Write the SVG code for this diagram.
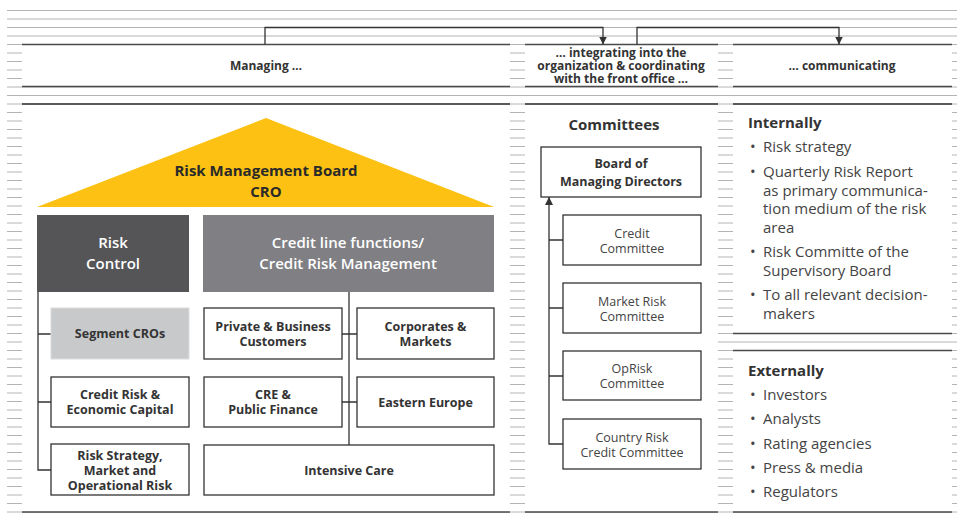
<svg xmlns="http://www.w3.org/2000/svg" width="957" height="520" viewBox="0 0 957 520">
<defs>
<style>
.bg{stroke:#b4b4b4;stroke-width:1}
.pb{stroke:#4a4a4a;stroke-width:1.3}
.pbt{stroke:#5a5a5a;stroke-width:2}
.box{fill:#fff;stroke:#333;stroke-width:1.3}
.con{fill:none;stroke:#333;stroke-width:1.3}
text{font-family:"Open Sans","Noto Sans",sans-serif;fill:#333}
.b{font-weight:700;font-size:12.5px;text-anchor:middle}
.h{font-weight:700;font-size:12px;text-anchor:middle}
.r{font-size:12.5px;text-anchor:middle;fill:#444}
.w{font-size:15px;text-anchor:middle;fill:#fff;font-weight:600}
.l{font-size:15px;fill:#444}
.lt{font-size:15px;font-weight:700;fill:#333}
</style>
<marker id="ah" viewBox="0 0 8 8" refX="8" refY="4" markerWidth="8" markerHeight="8" markerUnits="userSpaceOnUse" orient="auto">
<path d="M0,0 L8,4 L0,8 Z" fill="#333"/>
</marker>
</defs>
<rect width="957" height="520" fill="#fff"/>
<g id="grid">
<path class="bg" d="M7,10.5H957M7,19H957M7,27.5H957M7,36H957M7,44.5H957M7,53H957M7,61.5H957M7,70H957M7,78.5H957M7,87H957M7,95.5H957M7,104H957M7,112.5H957M7,121H957M7,129.5H957M7,138H957M7,146.5H957M7,155H957M7,163.5H957M7,172H957M7,180.5H957M7,189H957M7,197.5H957M7,206H957M7,214.5H957M7,223H957M7,231.5H957M7,240H957M7,248.5H957M7,257H957M7,265.5H957M7,274H957M7,282.5H957M7,291H957M7,299.5H957M7,308H957M7,316.5H957M7,325H957M7,333.5H957M7,342H957M7,350.5H957M7,359H957M7,367.5H957M7,376H957M7,384.5H957M7,393H957M7,401.5H957M7,410H957M7,418.5H957M7,427H957M7,435.5H957M7,444H957M7,452.5H957M7,461H957M7,469.5H957M7,478H957M7,486.5H957M7,495H957M7,503.5H957M7,512H957"/>
</g>
<g id="panels">
<rect x="22" y="44.5" width="488" height="42" fill="#fff"/>
<rect x="525" y="44.5" width="193" height="42" fill="#fff"/>
<rect x="733" y="44.5" width="219" height="42" fill="#fff"/>
<rect x="22" y="104" width="488" height="408" fill="#fff"/>
<rect x="525" y="104" width="193" height="408" fill="#fff"/>
<rect x="733" y="104" width="219" height="229.5" fill="#fff"/>
<rect x="733" y="350.5" width="219" height="161.5" fill="#fff"/>
<path class="pb" d="M22,44.5H510M525,44.5H718M733,44.5H952M22,86.5H510M525,86.5H718M733,86.5H952M733,333.5H952M733,350.5H952M22,512H510M525,512H718M733,512H952"/>
<path class="pbt" d="M22,104H510M525,104H718M733,104H952"/>
<text class="h" x="266" y="70">Managing …</text>
<text class="h" x="621" y="57">… integrating into the<tspan x="621" dy="13">organization &amp; coordinating</tspan><tspan x="621" dy="13">with the front office …</tspan></text>
<text class="h" x="842" y="70">… communicating</text>
</g>
<g id="connectors">
<path class="con" d="M265,44.5V27.5H603V44.5" marker-end="url(#ah)"/>
<path class="con" d="M637,44.5V27.5H839V44.5" marker-end="url(#ah)"/>
<path class="con" d="M38,292V470H51M38,334H51M38,402H51"/>
<path class="con" d="M349,292V445M342,334H357M342,402H357"/>
<path class="con" d="M563,444H549V197" marker-end="url(#ah)"/>
<path class="con" d="M549,240H563M549,308H563M549,376H563"/>
</g>
<g id="rmb">
<polygon points="266,118 494,207 37,207" fill="#fcc112"/>
<text x="266" y="176" style="font-size:15px;font-weight:700;text-anchor:middle;fill:#2a2a2a">Risk Management Board<tspan x="266" dy="21">CRO</tspan></text>
</g>
<g id="risk-control">
<rect x="37" y="215" width="152" height="77" fill="#555558"/>
<text class="w" x="113" y="248">Risk<tspan x="113" dy="21">Control</tspan></text>
</g>
<g id="credit-line">
<rect x="203" y="215" width="291" height="77" fill="#808084"/>
<text class="w" x="348" y="248">Credit line functions/<tspan x="348" dy="21">Credit Risk Management</tspan></text>
</g>
<g id="segment-cros">
<rect x="51" y="308" width="138" height="51" fill="#c8c9cb" stroke="#dcdcdc" stroke-width="1"/>
<text class="b" x="120" y="338">Segment CROs</text>
</g>
<g id="credit-risk-ec">
<rect class="box" x="51" y="377" width="138" height="50"/>
<text class="b" x="120" y="399">Credit Risk &amp;<tspan x="120" dy="15">Economic Capital</tspan></text>
</g>
<g id="risk-strategy">
<rect class="box" x="51" y="444" width="138" height="51"/>
<text class="b" x="120" y="460">Risk Strategy,<tspan x="120" dy="15">Market and</tspan><tspan x="120" dy="15">Operational Risk</tspan></text>
</g>
<g id="private-business">
<rect class="box" x="204" y="308" width="138" height="51"/>
<text class="b" x="273" y="331">Private &amp; Business<tspan x="273" dy="15">Customers</tspan></text>
</g>
<g id="corporates-markets">
<rect class="box" x="357" y="308" width="137" height="51"/>
<text class="b" x="425.5" y="331">Corporates &amp;<tspan x="425.5" dy="15">Markets</tspan></text>
</g>
<g id="cre-public-finance">
<rect class="box" x="204" y="377" width="138" height="50"/>
<text class="b" x="273" y="399">CRE &amp;<tspan x="273" dy="15">Public Finance</tspan></text>
</g>
<g id="eastern-europe">
<rect class="box" x="357" y="377" width="137" height="50"/>
<text class="b" x="425.5" y="407">Eastern Europe</text>
</g>
<g id="intensive-care">
<rect class="box" x="204" y="445" width="290" height="50"/>
<text class="b" x="349" y="475">Intensive Care</text>
</g>
<g id="committees">
<text x="614" y="130" style="font-size:15px;font-weight:700;text-anchor:middle;fill:#333">Committees</text>
</g>
<g id="board-md">
<rect class="box" x="541" y="147" width="160" height="50"/>
<text class="b" x="621" y="168">Board of<tspan x="621" dy="18">Managing Directors</tspan></text>
</g>
<g id="credit-committee">
<rect class="box" x="563" y="215" width="138" height="50"/>
<text class="r" x="632" y="238">Credit<tspan x="632" dy="15">Committee</tspan></text>
</g>
<g id="market-risk-committee">
<rect class="box" x="563" y="283" width="138" height="50"/>
<text class="r" x="632" y="306">Market Risk<tspan x="632" dy="15">Committee</tspan></text>
</g>
<g id="oprisk-committee">
<rect class="box" x="563" y="351" width="138" height="49"/>
<text class="r" x="632" y="373">OpRisk<tspan x="632" dy="15">Committee</tspan></text>
</g>
<g id="country-risk-committee">
<rect class="box" x="563" y="419" width="138" height="50"/>
<text class="r" x="632" y="442">Country Risk<tspan x="632" dy="15">Credit Committee</tspan></text>
</g>
<g id="internally">
<text class="lt" x="748" y="128">Internally</text>
<text class="l" x="750" y="152">•<tspan x="763">Risk strategy</tspan></text>
<text class="l" x="750" y="177">•<tspan x="763">Quarterly Risk Report</tspan><tspan x="763" dy="18.5">as primary communica-</tspan><tspan x="763" dy="18.5">tion medium of the risk</tspan><tspan x="763" dy="18.5">area</tspan></text>
<text class="l" x="750" y="257">•<tspan x="763">Risk Committe of the</tspan><tspan x="763" dy="18.5">Supervisory Board</tspan></text>
<text class="l" x="750" y="300">•<tspan x="763">To all relevant decision-</tspan><tspan x="763" dy="18.5">makers</tspan></text>
</g>
<g id="externally">
<text class="lt" x="748" y="376">Externally</text>
<text class="l" x="750" y="400">•<tspan x="763">Investors</tspan></text>
<text class="l" x="750" y="424">•<tspan x="763">Analysts</tspan></text>
<text class="l" x="750" y="449">•<tspan x="763">Rating agencies</tspan></text>
<text class="l" x="750" y="473">•<tspan x="763">Press &amp; media</tspan></text>
<text class="l" x="750" y="497">•<tspan x="763">Regulators</tspan></text>
</g>
</svg>
